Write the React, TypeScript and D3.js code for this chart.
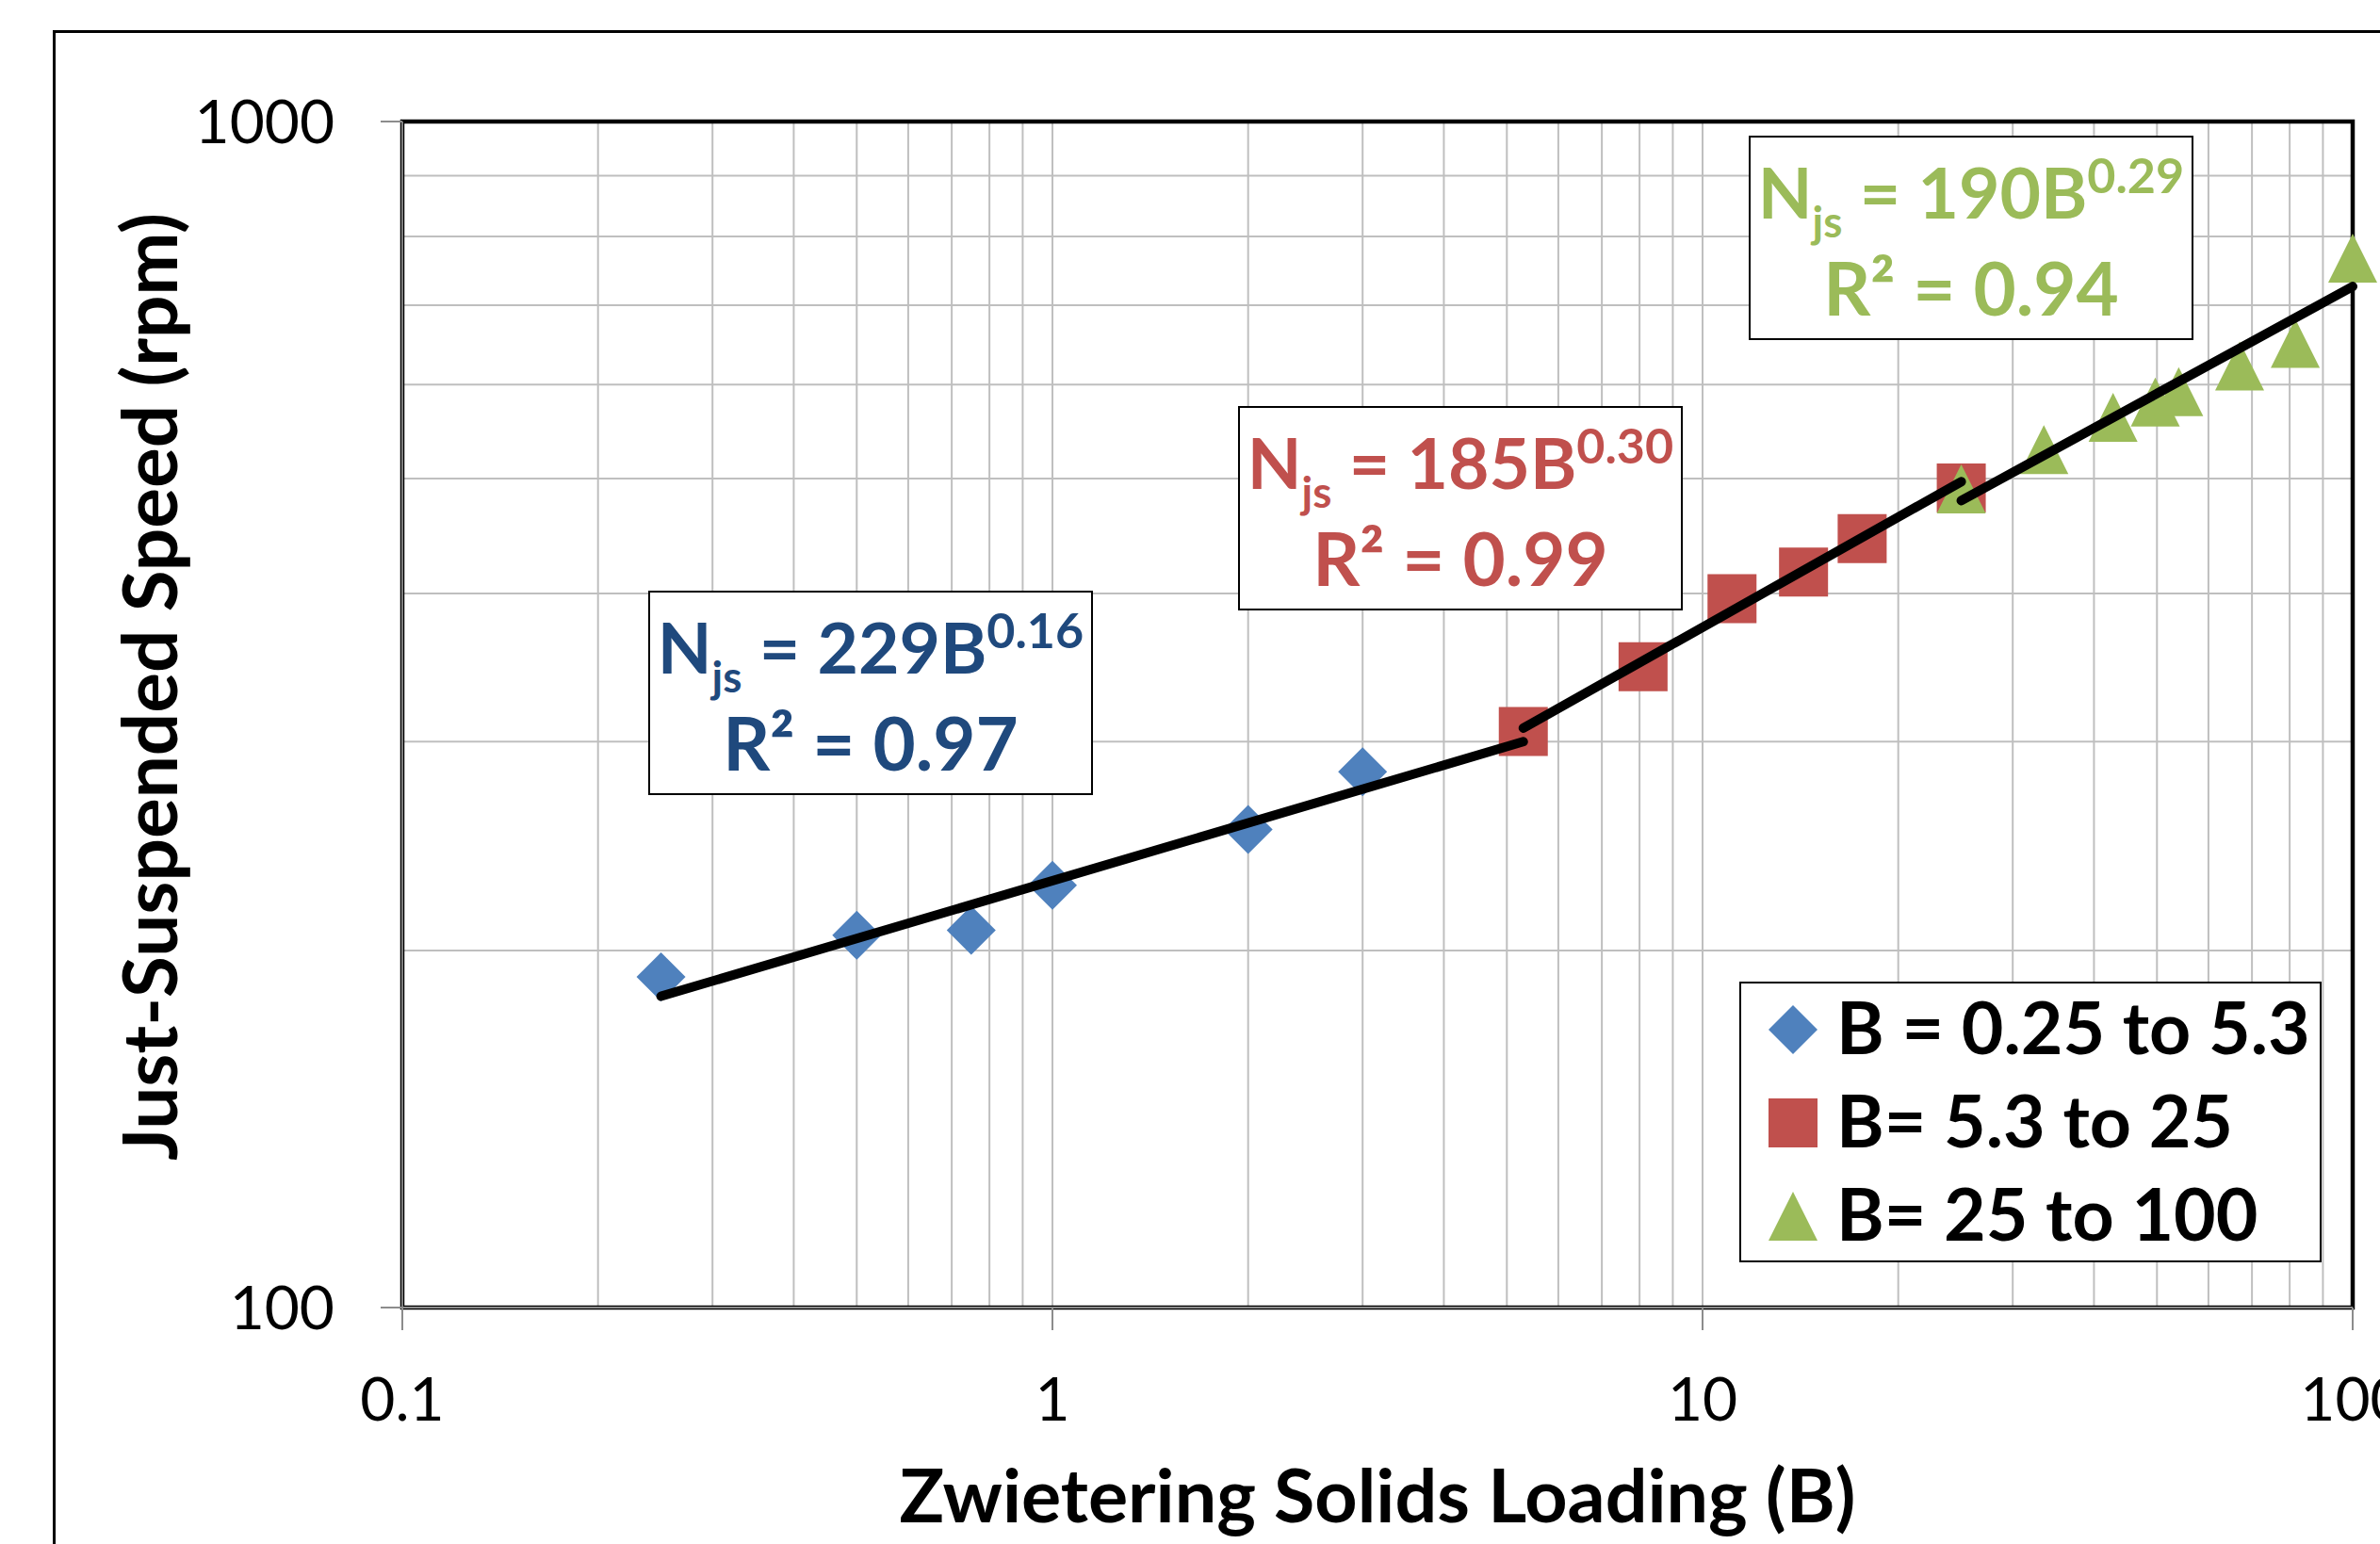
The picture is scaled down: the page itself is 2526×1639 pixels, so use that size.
import React from "react";
import * as d3 from "d3";

// Data
const blueB = [0.25, 0.5, 0.75, 1, 2, 3];
const blueN = [190, 206, 208, 227, 253, 283];
const redB = [5.3, 8.1, 11.1, 14.3, 17.6, 25];
const redN = [306, 347, 396, 417, 445, 491];
const greenB = [25, 33.5, 42.8, 49.7, 54, 67, 81.6, 100];
const greenN = [490, 529, 563, 580, 592, 622, 650, 767];

// Trendline end points (power fits, straight in log-log)
const blueTrend: [number, number][] = [[0.25, 183], [5.3, 300]];
const redTrend: [number, number][] = [[5.3, 308], [25, 497]];
const greenTrend: [number, number][] = [[25, 479], [100, 726]];

const xTickValues = [0.1, 1, 10, 100];
const xTickLabels = ["0.1", "1", "10", "100"];
const yTickValues = [100, 1000];
const yTickLabels = ["100", "1000"];

const legendLabels = ["B = 0.25 to 5.3", "B= 5.3 to 25", "B= 25 to 100"];
const fitCoef = ["229", "185", "190"];
const fitExp = ["0.16", "0.30", "0.29"];
const fitR2 = ["0.97", "0.99", "0.94"];

const colors = ["#4F81BD", "#C0504D", "#9BBB59"];
const textColors = ["#1F497D", "#C0504D", "#9BBB59"];

const W = 2526;
const H = 1639;
const margin = { top: 129, right: 29, bottom: 251, left: 427 };
const FONT = "Lato, 'Open Sans', sans-serif";

const markerPath = (kind: number, s: number) => {
  const h = s / 2;
  if (kind === 0) return `M0,${-h}L${h},0L0,${h}L${-h},0Z`;
  if (kind === 1) return `M${-h},${-h}H${h}V${h}H${-h}Z`;
  return `M0,${-h}L${h},${h}L${-h},${h}Z`;
};

const Chart = () => {
  const x = d3
    .scaleLog()
    .domain([0.1, 100])
    .range([margin.left, W - margin.right]);
  const y = d3
    .scaleLog()
    .domain([100, 1000])
    .range([H - margin.bottom, margin.top]);

  const x0 = x.range()[0];
  const x1 = x.range()[1];
  const y0 = y.range()[0];
  const y1 = y.range()[1];

  const gridX = x.ticks().filter((v) => v > 0.1 && v < 100);
  const gridY = y.ticks().filter((v) => v > 100 && v < 1000);

  const line = d3
    .line<[number, number]>()
    .x((d) => x(d[0]))
    .y((d) => y(d[1]));

  const series = [
    { b: blueB, n: blueN },
    { b: redB, n: redN },
    { b: greenB, n: greenN },
  ];
  const trends = [blueTrend, redTrend, greenTrend];

  // annotation boxes (left, top)
  const boxes = [
    { left: 689, top: 628 },
    { left: 1315, top: 432 },
    { left: 1857, top: 145 },
  ];
  const boxW = 470;
  const boxH = 215;

  const legend = { left: 1847, top: 1043, w: 616, h: 296 };

  return (
    <svg
      width={W}
      height={H}
      style={{ position: "absolute", left: 0, top: 0, background: "#fff" }}
      fontFamily={FONT}
    >
      <rect x={0} y={0} width={W} height={H} fill="#fff" />
      {/* chart area border */}
      <rect x={57.5} y={33.5} width={3000} height={3000} fill="none" stroke="#000" strokeWidth={3} />

      {/* gridlines */}
      {gridX.map((v, i) => (
        <line key={"gx" + i} x1={x(v)} x2={x(v)} y1={y1} y2={y0} stroke="#BFBFBF" strokeWidth={2} />
      ))}
      {gridY.map((v, i) => (
        <line key={"gy" + i} x1={x0} x2={x1} y1={y(v)} y2={y(v)} stroke="#BFBFBF" strokeWidth={2} />
      ))}

      {/* plot area frame */}
      <rect x={x0} y={y1} width={x1 - x0} height={y0 - y1} fill="none" stroke="#000" strokeWidth={4.5} />
      <line x1={x0} x2={x0} y1={y1} y2={y0} stroke="#8C8C8C" strokeWidth={1.8} />
      <line x1={x0} x2={x1} y1={y0} y2={y0} stroke="#8C8C8C" strokeWidth={1.8} />

      {/* ticks */}
      {xTickValues.map((v, i) => (
        <line key={"xt" + i} x1={x(v)} x2={x(v)} y1={y0} y2={y0 + 24} stroke="#8C8C8C" strokeWidth={2} />
      ))}
      {yTickValues.map((v, i) => (
        <line key={"yt" + i} x1={x0 - 23} x2={x0} y1={y(v)} y2={y(v)} stroke="#8C8C8C" strokeWidth={2} />
      ))}

      {/* tick labels */}
      {xTickValues.map((v, i) => (
        <text key={"xl" + i} x={x(v)} y={y0 + 120} textAnchor="middle" fontSize={64} fill="#000">
          {xTickLabels[i]}
        </text>
      ))}
      {yTickValues.map((v, i) => (
        <text key={"yl" + i} x={x0 - 72} y={y(v) + 23} textAnchor="end" fontSize={64} fill="#000">
          {yTickLabels[i]}
        </text>
      ))}

      {/* axis titles */}
      <text x={(x0 + x1) / 2} y={1616} textAnchor="middle" fontSize={79} fontWeight={700} fill="#000">
        Zwietering Solids Loading (B)
      </text>
      <text
        transform={`translate(188,729) rotate(-90)`}
        textAnchor="middle"
        fontSize={80}
        fontWeight={700}
        fill="#000"
      >
        Just-Suspended Speed (rpm)
      </text>

      {/* markers */}
      {series.map((s, si) =>
        s.b.map((b, i) => (
          <path
            key={`m${si}-${i}`}
            d={markerPath(si, 52)}
            transform={`translate(${x(b)},${y(s.n[i])})`}
            fill={colors[si]}
          />
        ))
      )}

      {/* trendlines */}
      {trends.map((t, i) => (
        <path
          key={"tr" + i}
          d={line(t) || ""}
          fill="none"
          stroke="#000"
          strokeWidth={10}
          strokeLinecap="round"
        />
      ))}

      {/* fit annotations */}
      {boxes.map((bx, i) => (
        <g key={"box" + i} fill={textColors[i]} fontWeight={700}>
          <rect x={bx.left} y={bx.top} width={boxW} height={boxH} fill="#fff" stroke="#000" strokeWidth={2} />
          <text x={bx.left + boxW / 2} y={bx.top + 87} textAnchor="middle" fontSize={75} style={{ whiteSpace: "pre" }}>
            N
            <tspan fontSize={46} dy={20}>js</tspan>
            <tspan dy={-20}>{` = ${fitCoef[i]}B`}</tspan>
            <tspan fontSize={52} dy={-27}>{fitExp[i]}</tspan>
          </text>
          <text x={bx.left + boxW / 2} y={bx.top + 190} textAnchor="middle" fontSize={78}>
            {`R² = ${fitR2[i]}`}
          </text>
        </g>
      ))}

      {/* legend */}
      <rect x={legend.left} y={legend.top} width={legend.w} height={legend.h} fill="#fff" stroke="#000" strokeWidth={2} />
      {legendLabels.map((lab, i) => (
        <g key={"lg" + i}>
          <path
            d={markerPath(i, 52)}
            transform={`translate(${legend.left + 56},${legend.top + 50 + i * 99})`}
            fill={colors[i]}
          />
          <text x={legend.left + 102} y={legend.top + 76 + i * 99} fontSize={77} fontWeight={700} fill="#000">
            {lab}
          </text>
        </g>
      ))}
    </svg>
  );
};

export default function App() {
  return <Chart />;
}
